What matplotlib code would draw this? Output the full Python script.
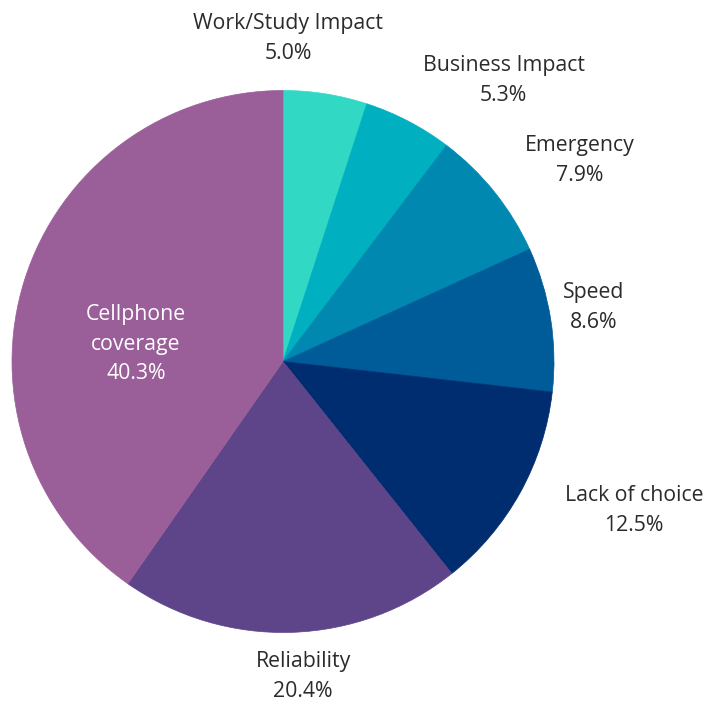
import matplotlib.pyplot as plt

# Share of responses by main reason
categorias = ['Work/Study Impact', 'Business Impact', 'Emergency', 'Speed',
              'Lack of choice', 'Reliability', 'Cellphone\ncoverage']
porcentajes = [5.0, 5.3, 7.9, 8.6, 12.5, 20.4, 40.3]
colores = ['#31d9c5', '#00b0c1', '#0088b1', '#005b99', '#002d6f',
           '#5e4489', '#9a5e98']

# Label positions in pie units (radius = 1)
pos_etiquetas = [(0.018, 1.193), (0.814, 1.038), (1.096, 0.741), (1.146, 0.200),
                 (1.295, -0.549), (0.074, -1.162), (-0.542, 0.064)]

plt.rcParams['font.family'] = ['Open Sans', 'DejaVu Sans']

fig = plt.figure(figsize=(7.08, 7.04), dpi=100)
ax = fig.add_axes([0, 0, 1, 1])

cunas, _ = ax.pie(porcentajes, colors=colores, startangle=90, counterclock=False,
                  radius=1)
for c in cunas:
    c.set_edgecolor(c.get_facecolor())
    c.set_linewidth(0.5)

for i, (cat, val) in enumerate(zip(categorias, porcentajes)):
    x, y = pos_etiquetas[i]
    color_txt = 'white' if i == len(categorias) - 1 else '#2b2b2b'
    ax.text(x, y, f'{cat}\n{val:.1f}%', ha='center', va='center',
            fontsize=15.3, color=color_txt, linespacing=1.55)

# centro del pastel en (283, 361.5) px, radio 271 px
ax.set_aspect('auto')
ax.set_xlim(-283 / 271, (708 - 283) / 271)
ax.set_ylim((361.5 - 704) / 271, 361.5 / 271)
ax.axis('off')

fig.savefig('out.png', dpi=100)
